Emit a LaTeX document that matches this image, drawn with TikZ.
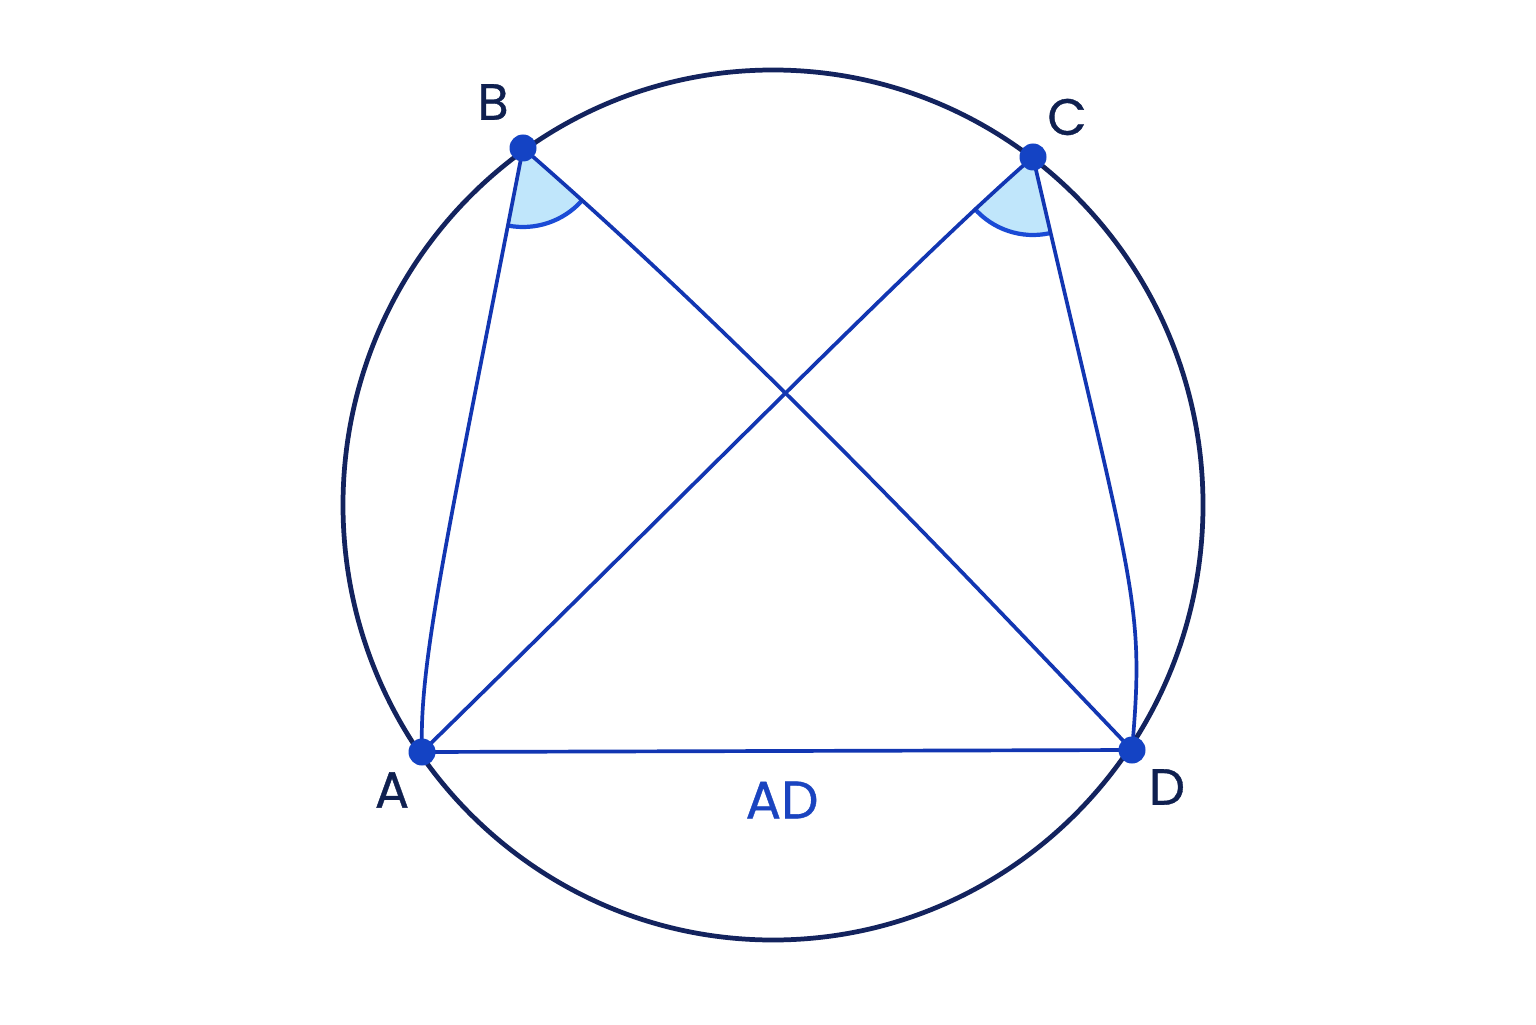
\documentclass[tikz,border=0pt]{standalone}
\usepackage{fontspec}
\setmainfont{Poppins}
\newfontfamily\lblfont[FakeBold=0.7]{Poppins}
\definecolor{navy}{HTML}{13235E}
\definecolor{lineblue}{HTML}{1236B2}
\definecolor{dotblue}{HTML}{1443C4}
\definecolor{wedgefill}{HTML}{C0E6FB}
\definecolor{wedgeline}{HTML}{1A4BD6}
\definecolor{txtnavy}{HTML}{0F2050}
\definecolor{txtblue}{HTML}{1A44C0}
\tikzset{
  rim/.style={draw=navy, line width=1.35pt},
  chord/.style={draw=lineblue, line width=1.05pt},
  ptdot/.style={circle, fill=dotblue, inner sep=0pt, minimum size=0.27cm},
  ptlabel/.style={text=txtnavy, font=\lblfont\fontsize{14.5}{16}\selectfont, inner sep=0pt},
  seglabel/.style={text=txtblue, font=\lblfont\fontsize{15}{17}\selectfont, inner sep=0pt},
  wedge/.style={fill=wedgefill},
  wedgearc/.style={draw=wedgeline, line width=1.2pt}
}
\begin{document}
\begin{tikzpicture}
\useasboundingbox[fill=white] (0,0) rectangle (15.36,10.24);
% points
\coordinate (A) at (4.22,2.72);
\coordinate (B) at (5.23,8.76);
\coordinate (C) at (10.33,8.67);
\coordinate (D) at (11.32,2.74);
\coordinate (O) at (7.73,5.19);
% circle
\draw[rim] (O) ellipse [x radius=4.30, y radius=4.35];
% angle wedges
\fill[wedge] (B) -- ++(259:0.79) arc[start angle=259, end angle=318, radius=0.79] -- cycle;
\draw[wedgearc] (B) ++(259:0.79) arc[start angle=259, end angle=318, radius=0.79];
\fill[wedge] (C) -- ++(221:0.78) arc[start angle=221, end angle=282, radius=0.78] -- cycle;
\draw[wedgearc] (C) ++(221:0.78) arc[start angle=221, end angle=282, radius=0.78];
% chords
\draw[chord] (B) .. controls +(259:4) and +(92:0.9) .. (A);
\draw[chord] (B) .. controls +(-41:2.8) and +(133.6:2.8) .. (D);
\draw[chord] (C) .. controls +(221:1.5) and +(44.4:4) .. (A);
\draw[chord] (C) .. controls +(283:4.5) and +(85:1.5) .. (D);
\draw[chord] (A) -- (D);
% dots
\node[ptdot] (dA) at (A) {};
\node[ptdot] (dB) at (B) {};
\node[ptdot] (dC) at (C) {};
\node[ptdot] (dD) at (D) {};
% labels
\node[ptlabel] (lB) at (4.93,9.22) {B};
\node[ptlabel] (lC) at (10.67,9.07) {C};
\node[ptlabel] (lA) at (3.92,2.34) {A};
\node[ptlabel] (lD) at (11.67,2.37) {D};
\node[seglabel] (lAD) at (7.82,2.24) {AD};
\end{tikzpicture}
\end{document}
